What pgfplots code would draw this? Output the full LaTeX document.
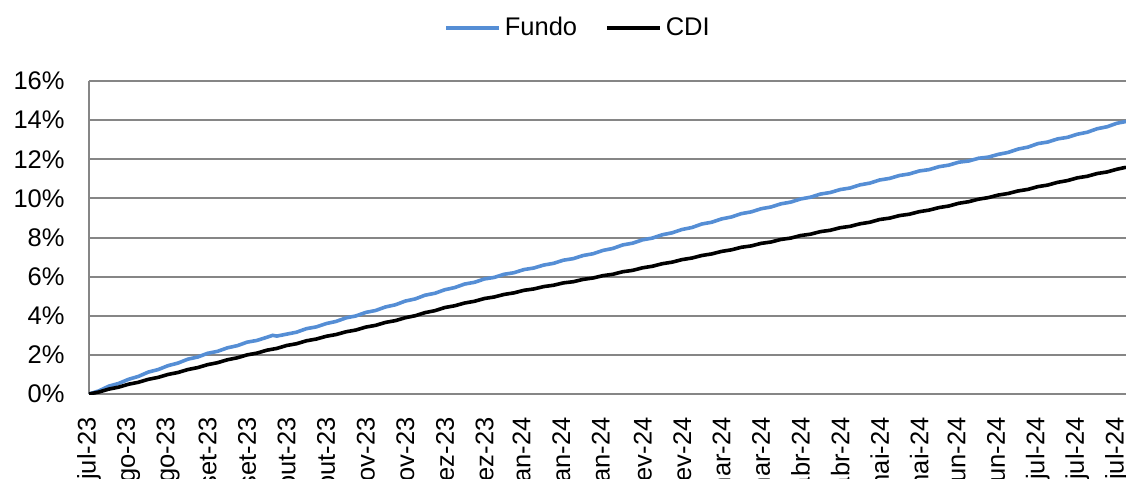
\documentclass[border=0pt]{standalone}
\usepackage{pgfplots}
\pgfplotsset{compat=1.18}
\usepackage{fontspec}
\setmainfont{Liberation Sans}
\definecolor{fundo}{HTML}{558ED5}
\definecolor{gridgray}{RGB}{134,134,134}
\begin{document}
\begin{tikzpicture}
\useasboundingbox (-44.5pt,-42pt) rectangle (518.5pt,197pt);
\clip (-44.5pt,-42pt) rectangle (518.5pt,197pt);
\begin{axis}[
  at={(0pt,0pt)}, anchor=south west,
  scale only axis,
  width=518.5pt, height=156.5pt,
  xmin=0, xmax=26.23, ymin=0, ymax=16,
  axis x line*=bottom, axis y line*=left,
  axis line style={-, draw=gridgray, line width=1pt},
  ymajorgrids=true,
  major grid style={gridgray, line width=1pt},
  major tick length=0pt,
  ytick={0,2,...,16},
  yticklabel={\pgfmathprintnumber{\tick}\%},
  /pgf/number format/assume math mode=true,
  yticklabel style={font=\fontsize{12.75}{14}\selectfont, inner sep=0pt, anchor=east, xshift=-12pt},
  xtick={0,1,...,26},
  xticklabels={jul-23,ago-23,ago-23,set-23,set-23,out-23,out-23,nov-23,nov-23,dez-23,dez-23,jan-24,jan-24,jan-24,fev-24,fev-24,mar-24,mar-24,abr-24,abr-24,mai-24,mai-24,jun-24,jun-24,jul-24,jul-24,jul-24},
  xticklabel style={font=\fontsize{12.75}{14}\selectfont, rotate=90, anchor=east, inner sep=0pt, xshift=-11.5pt},
  legend style={draw=none, fill=none, at={(0.4725,1.169)}, anchor=center, legend columns=2,
    font=\fontsize{12.75}{14}\selectfont, inner sep=0pt,
    /tikz/every even column/.append style={column sep=12pt}},
  legend image code/.code={\draw[#1] (0pt,0pt) -- (26.5pt,0pt);},
]
\addplot[fundo, line width=1.8pt] coordinates {
(0,0) (0.25,0.16) (0.5,0.40) (0.75,0.54) (1,0.75) (1.25,0.90) (1.5,1.12) (1.75,1.25) (2,1.45)
(2.25,1.58) (2.5,1.78) (2.75,1.89) (3,2.08) (3.25,2.18) (3.5,2.36) (3.75,2.47) (4,2.65)
(4.25,2.74) (4.5,2.90) (4.65,3.00) (4.75,2.96) (5,3.06) (5.25,3.16) (5.5,3.34) (5.75,3.43)
(6,3.60) (6.25,3.71) (6.5,3.89) (6.75,3.99) (7,4.17) (7.25,4.27) (7.5,4.45) (7.75,4.56)
(8,4.75) (8.25,4.86) (8.5,5.05) (8.75,5.15) (9,5.33) (9.25,5.44) (9.5,5.62) (9.75,5.71)
(10,5.88) (10.25,5.96) (10.5,6.12) (10.75,6.20) (11,6.36) (11.25,6.44) (11.5,6.59) (11.75,6.68)
(12,6.84) (12.25,6.92) (12.5,7.08) (12.75,7.17) (13,7.34) (13.25,7.44) (13.5,7.62) (13.75,7.71)
(14,7.88) (14.25,7.97) (14.5,8.14) (14.75,8.24) (15,8.41) (15.25,8.51) (15.5,8.69) (15.75,8.78)
(16,8.95) (16.25,9.05) (16.5,9.22) (16.75,9.31) (17,9.47) (17.25,9.56) (17.5,9.72) (17.75,9.81)
(18,9.97) (18.25,10.06) (18.5,10.22) (18.75,10.30) (19,10.45) (19.25,10.53) (19.5,10.69) (19.75,10.78)
(20,10.94) (20.25,11.02) (20.5,11.17) (20.75,11.25) (21,11.40) (21.25,11.47) (21.5,11.62) (21.75,11.70)
(22,11.85) (22.25,11.91) (22.5,12.05) (22.75,12.11) (23,12.25) (23.25,12.35) (23.5,12.52) (23.75,12.62)
(24,12.80) (24.25,12.88) (24.5,13.04) (24.75,13.12) (25,13.28) (25.25,13.38) (25.5,13.56) (25.75,13.66)
(26,13.84) (26.23,13.93)
};
\addlegendentry{Fundo}
\addplot[black, line width=1.8pt] coordinates {
(0,0) (0.25,0.10) (0.5,0.25) (0.75,0.35) (1,0.50) (1.25,0.60) (1.5,0.75) (1.75,0.85) (2,1.00)
(2.25,1.10) (2.5,1.25) (2.75,1.35) (3,1.50) (3.25,1.60) (3.5,1.75) (3.75,1.85) (4,2.00)
(4.25,2.09) (4.5,2.24) (4.75,2.33) (5,2.48) (5.25,2.57) (5.5,2.72) (5.75,2.81) (6,2.95)
(6.25,3.04) (6.5,3.18) (6.75,3.27) (7,3.42) (7.25,3.51) (7.5,3.66) (7.75,3.75) (8,3.90)
(8.25,4.00) (8.5,4.16) (8.75,4.26) (9,4.42) (9.25,4.51) (9.5,4.65) (9.75,4.74) (10,4.88)
(10.25,4.96) (10.5,5.09) (10.75,5.17) (11,5.30) (11.25,5.37) (11.5,5.49) (11.75,5.56) (12,5.68)
(12.25,5.74) (12.5,5.86) (12.75,5.93) (13,6.05) (13.25,6.12) (13.5,6.25) (13.75,6.32) (14,6.45)
(14.25,6.53) (14.5,6.66) (14.75,6.74) (15,6.87) (15.25,6.95) (15.5,7.08) (15.75,7.16) (16,7.29)
(16.25,7.37) (16.5,7.50) (16.75,7.57) (17,7.70) (17.25,7.77) (17.5,7.90) (17.75,7.97) (18,8.10)
(18.25,8.17) (18.5,8.30) (18.75,8.37) (19,8.50) (19.25,8.57) (19.5,8.70) (19.75,8.78) (20,8.92)
(20.25,8.99) (20.5,9.12) (20.75,9.19) (21,9.32) (21.25,9.40) (21.5,9.53) (21.75,9.61) (22,9.75)
(22.25,9.83) (22.5,9.96) (22.75,10.04) (23,10.17) (23.25,10.25) (23.5,10.38) (23.75,10.46) (24,10.60)
(24.25,10.68) (24.5,10.82) (24.75,10.91) (25,11.05) (25.25,11.13) (25.5,11.27) (25.75,11.35) (26,11.49)
(26.23,11.59)
};
\addlegendentry{CDI}
\end{axis}
\end{tikzpicture}
\end{document}
